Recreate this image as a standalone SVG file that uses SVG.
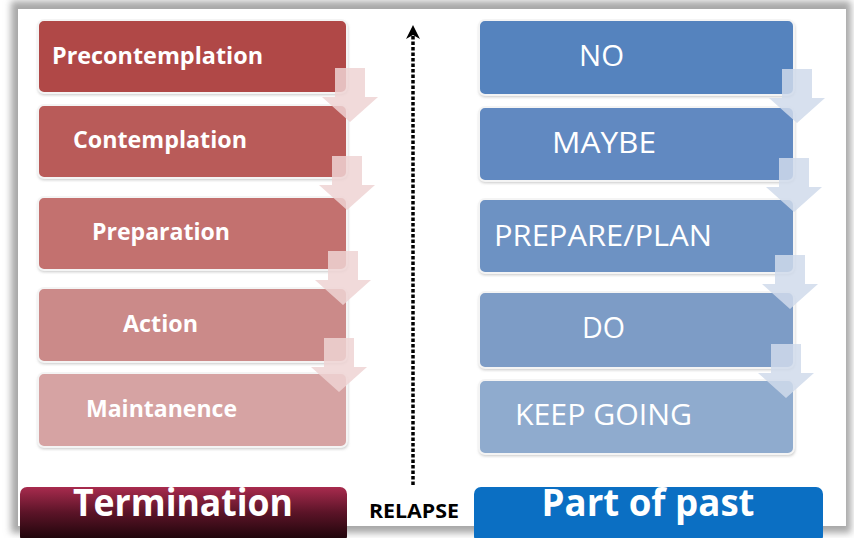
<svg xmlns="http://www.w3.org/2000/svg" width="854" height="538" viewBox="0 0 854 538">
  <defs>
    <filter id="panelShadow" x="-5%" y="-5%" width="110%" height="110%">
      <feGaussianBlur stdDeviation="3.5"/>
    </filter>
    <filter id="boxShadow" x="-5%" y="-10%" width="110%" height="130%">
      <feGaussianBlur stdDeviation="1.5"/>
    </filter>
    <linearGradient id="termGrad" x1="0" y1="0" x2="0" y2="1">
      <stop offset="0" stop-color="#a82b4e"/>
      <stop offset="0.45" stop-color="#5c1428"/>
      <stop offset="1" stop-color="#160306"/>
    </linearGradient>
    <!-- down chevron arrow, origin at top centre of shaft -->
    <path id="downArrow" d="M-15,0 H15 V29 H28 L0,54 L-28,29 H-15 Z"/>
  </defs>
  <style>
    .box { stroke: #f4f4f4; stroke-width: 2; }
    .shadow { fill: #9a9a9a; opacity: 0.55; }
    .lbl { font-family: "Open Sans", "Liberation Sans", sans-serif; fill: #ffffff; }
    .red-lbl { font-size: 23px; font-weight: 700; }
    .blue-lbl { font-size: 29px; font-weight: 400; }
    .arrow-red { fill: #eed3d3; opacity: 0.85; }
    .arrow-blue { fill: #d0daeb; opacity: 0.85; }
    .big { font-family: "Open Sans", "Liberation Sans", sans-serif; font-size: 38px; font-weight: 700; fill: #ffffff; }
  </style>

  <rect width="854" height="538" fill="#ffffff"/>

  <!-- framed panel -->
  <g id="panel">
    <rect x="11" y="1" width="840" height="532" fill="#a8a8a8" filter="url(#panelShadow)"/>
    <rect x="18" y="9" width="828" height="517" fill="#ffffff"/>
  </g>

  <!-- stages on the left -->
  <g id="precontemplation">
    <rect class="shadow" x="38" y="22" width="310" height="73" rx="6" filter="url(#boxShadow)"/>
    <rect class="box" x="38" y="20" width="309" height="73" rx="6" fill="#b04847"/>
    <text class="lbl red-lbl" x="52" y="64" textLength="211" lengthAdjust="spacingAndGlyphs">Precontemplation</text>
  </g>
  <g id="contemplation">
    <rect class="shadow" x="38" y="107" width="310" height="73" rx="6" filter="url(#boxShadow)"/>
    <rect class="box" x="38" y="105" width="309" height="73" rx="6" fill="#b95b59"/>
    <text class="lbl red-lbl" x="73" y="148" textLength="174" lengthAdjust="spacingAndGlyphs">Contemplation</text>
  </g>
  <g id="preparation">
    <rect class="shadow" x="38" y="199" width="310" height="73" rx="6" filter="url(#boxShadow)"/>
    <rect class="box" x="38" y="197" width="309" height="73" rx="6" fill="#c3716f"/>
    <text class="lbl red-lbl" x="92" y="240" textLength="138" lengthAdjust="spacingAndGlyphs">Preparation</text>
  </g>
  <g id="action">
    <rect class="shadow" x="38" y="290" width="310" height="74" rx="6" filter="url(#boxShadow)"/>
    <rect class="box" x="38" y="288" width="309" height="74" rx="6" fill="#cb8a89"/>
    <text class="lbl red-lbl" x="123" y="332" textLength="75" lengthAdjust="spacingAndGlyphs">Action</text>
  </g>
  <g id="maintanence">
    <rect class="shadow" x="38" y="375" width="310" height="74" rx="6" filter="url(#boxShadow)"/>
    <rect class="box" x="38" y="373" width="309" height="74" rx="6" fill="#d6a3a3"/>
    <text class="lbl red-lbl" x="86" y="417" textLength="151" lengthAdjust="spacingAndGlyphs">Maintanence</text>
  </g>

  <!-- plain-language steps on the right -->
  <g id="no">
    <rect class="shadow" x="479" y="22" width="316" height="75" rx="6" filter="url(#boxShadow)"/>
    <rect class="box" x="479" y="20" width="315" height="75" rx="6" fill="#5583be"/>
    <text class="lbl blue-lbl" x="579" y="66" textLength="45" lengthAdjust="spacingAndGlyphs">NO</text>
  </g>
  <g id="maybe">
    <rect class="shadow" x="479" y="109" width="316" height="74" rx="6" filter="url(#boxShadow)"/>
    <rect class="box" x="479" y="107" width="315" height="74" rx="6" fill="#6189c1"/>
    <text class="lbl blue-lbl" x="552" y="153" textLength="104" lengthAdjust="spacingAndGlyphs">MAYBE</text>
  </g>
  <g id="prepare-plan">
    <rect class="shadow" x="479" y="201" width="316" height="74" rx="6" filter="url(#boxShadow)"/>
    <rect class="box" x="479" y="199" width="315" height="74" rx="6" fill="#6d92c3"/>
    <text class="lbl blue-lbl" x="494" y="246" textLength="218" lengthAdjust="spacingAndGlyphs">PREPARE/PLAN</text>
  </g>
  <g id="do">
    <rect class="shadow" x="479" y="294" width="316" height="76" rx="6" filter="url(#boxShadow)"/>
    <rect class="box" x="479" y="292" width="315" height="76" rx="6" fill="#7d9cc6"/>
    <text class="lbl blue-lbl" x="582" y="338" textLength="43" lengthAdjust="spacingAndGlyphs">DO</text>
  </g>
  <g id="keep-going">
    <rect class="shadow" x="479" y="382" width="316" height="74" rx="6" filter="url(#boxShadow)"/>
    <rect class="box" x="479" y="380" width="315" height="74" rx="6" fill="#8fabce"/>
    <text class="lbl blue-lbl" x="515" y="425" textLength="177" lengthAdjust="spacingAndGlyphs">KEEP GOING</text>
  </g>

  <!-- connectors -->
  <g id="connectors">
    <use href="#downArrow" class="arrow-red" transform="translate(350,68)"/>
    <use href="#downArrow" class="arrow-red" transform="translate(347,156)"/>
    <use href="#downArrow" class="arrow-red" transform="translate(343,251)"/>
    <use href="#downArrow" class="arrow-red" transform="translate(339,338)"/>

    <use href="#downArrow" class="arrow-blue" transform="translate(797,69)"/>
    <use href="#downArrow" class="arrow-blue" transform="translate(794,158)"/>
    <use href="#downArrow" class="arrow-blue" transform="translate(790,255)"/>
    <use href="#downArrow" class="arrow-blue" transform="translate(786,344)"/>

    <!-- relapse: dotted line pointing back up -->
    <line x1="413" y1="485" x2="413" y2="36" stroke="#000000" stroke-width="3.5" stroke-dasharray="3.5 2"/>
    <path d="M413,25 L420,39 L413,35 L406,39 Z" fill="#000000"/>
  </g>

  <!-- bottom labels -->
  <g id="termination">
    <rect x="20" y="487" width="327" height="56" rx="7" fill="url(#termGrad)"/>
    <text class="big" x="183" y="516" text-anchor="middle" textLength="220" lengthAdjust="spacingAndGlyphs">Termination</text>
  </g>
  <g id="relapse">
    <text x="414" y="518" text-anchor="middle" font-family="Open Sans, Liberation Sans, sans-serif" font-size="19" font-weight="700" fill="#000000" textLength="90" lengthAdjust="spacingAndGlyphs">RELAPSE</text>
  </g>
  <g id="part-of-past">
    <rect x="474" y="487" width="349" height="56" rx="7" fill="#0b6fc3"/>
    <text class="big" x="648" y="516" text-anchor="middle" textLength="213" lengthAdjust="spacingAndGlyphs">Part of past</text>
  </g>
</svg>
